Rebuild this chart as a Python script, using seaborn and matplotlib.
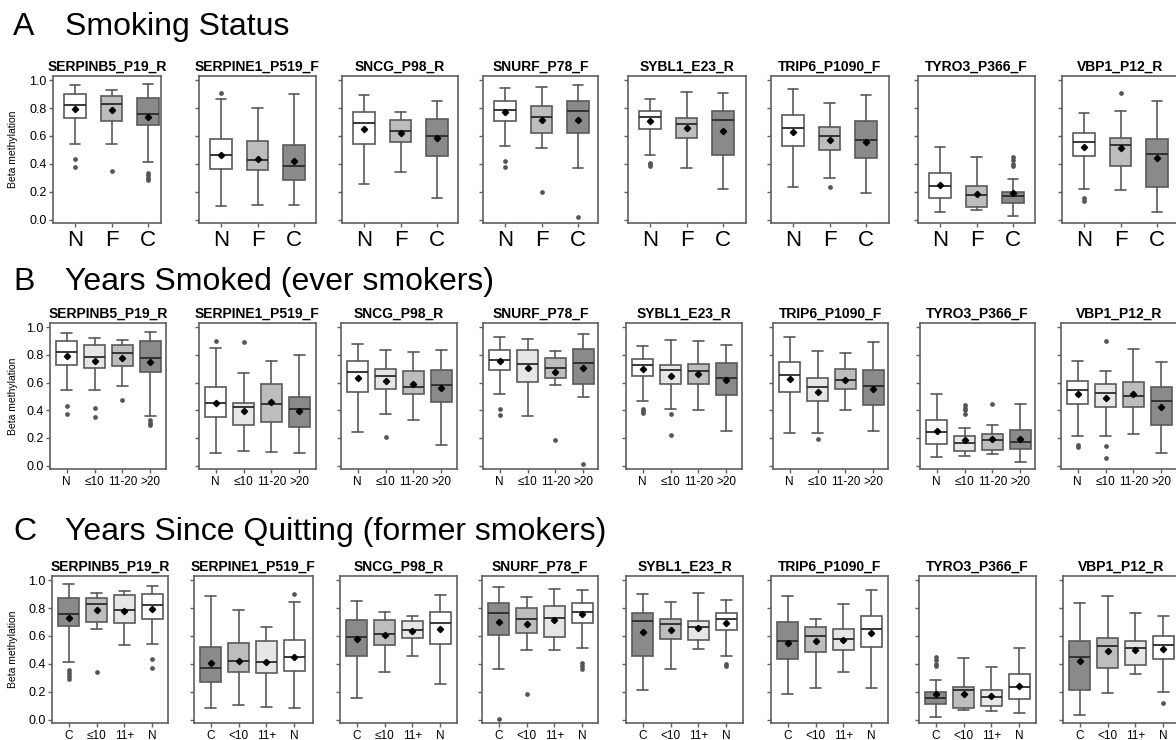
import matplotlib
matplotlib.use("Agg")
import matplotlib.pyplot as plt
import seaborn as sns

# ---------------------------------------------------------------- data
GENES = ["SERPINB5_P19_R", "SERPINE1_P519_F", "SNCG_P98_R", "SNURF_P78_F",
         "SYBL1_E23_R", "TRIP6_P1090_F", "TYRO3_P366_F", "VBP1_P12_R"]

# A: smoking status (N = never, F = former, C = current)
A_LABELS = ["N", "F", "C"]
A_HIGH = [[.964, .928, .971], [.863, .799, .904], [.897, .775, .851], [.945, .950, .966],
          [.868, .916, .909], [.938, .835, .897], [.520, .448, .293], [.765, .782, .851]]
A_Q3 = [[.904, .887, .875], [.580, .564, .532], [.772, .712, .719], [.851, .815, .847],
        [.777, .727, .777], [.751, .664, .707], [.331, .240, .201], [.619, .588, .578]]
A_MED = [[.825, .827, .760], [.465, .429, .381], [.691, .633, .597], [.784, .739, .782],
         [.734, .686, .715], [.657, .597, .573], [.240, .177, .168], [.556, .535, .470]]
A_Q1 = [[.731, .710, .679], [.362, .353, .283], [.545, .554, .458], [.710, .621, .624],
        [.652, .585, .463], [.528, .501, .444], [.156, .091, .117], [.453, .386, .232]]
A_LOW = [[.545, .545, .412], [.096, .103, .101], [.254, .341, .156], [.528, .513, .372],
         [.465, .369, .221], [.235, .300, .192], [.055, .070, .024], [.218, .214, .053]]
A_MEAN = [[.796, .786, .739], [.462, .432, .420], [.647, .624, .585], [.772, .717, .717],
          [.705, .657, .638], [.628, .573, .559], [.250, .185, .192], [.523, .516, .439]]
A_FLIERS = [[[.437, .376], [.345], [.336, .317, .300, .286]],
            [[.911], [], []],
            [[], [], []],
            [[.422, .379], [.199], [.019]],
            [[.408, .396, .384], [], []],
            [[], [.235], []],
            [[], [], [.451, .424, .398, .385]],
            [[.156, .132], [.906], []]]

# B: years smoked (ever smokers)
B_LABELS = ["N", "\u226410", "11-20", ">20"]
B_HIGH = [[.959, .919, .907, .967], [.848, .667, .757, .802], [.876, .833, .817, .833],
          [.929, .914, .829, .948], [.862, .905, .898, .874], [.931, .829, .810, .890],
          [.514, .274, .293, .448], [.757, .686, .845, .745]]
B_Q3 = [[.900, .871, .871, .900], [.567, .452, .590, .498], [.752, .695, .683, .693],
        [.833, .836, .776, .845], [.769, .729, .736, .743], [.745, .636, .700, .688],
        [.331, .217, .231, .255], [.614, .588, .602, .567]]
B_MED = [[.821, .781, .814, .776], [.455, .421, .448, .405], [.674, .648, .569, .581],
         [.764, .733, .705, .743], [.726, .693, .683, .633], [.655, .567, .621, .576],
         [.243, .160, .186, .169], [.548, .521, .505, .464]]
B_Q1 = [[.726, .705, .719, .676], [.352, .290, .317, .276], [.529, .555, .519, .462],
        [.693, .607, .633, .588], [.645, .586, .586, .510], [.529, .469, .555, .440],
        [.157, .107, .112, .117], [.448, .426, .421, .295]]
B_LOW = [[.543, .543, .576, .359], [.090, .107, .095, .088], [.240, .369, .329, .145],
         [.514, .357, .581, .495], [.464, .412, .402, .248], [.233, .233, .400, .252],
         [.060, .071, .086, .024], [.212, .210, .226, .088]]
B_MEAN = [[.793, .757, .776, .745], [.452, .393, .460, .393], [.633, .610, .586, .562],
          [.755, .705, .679, .705], [.698, .645, .664, .619], [.624, .533, .621, .555],
          [.252, .183, .195, .195], [.517, .488, .517, .426]]
B_FLIERS = [[[.433, .374], [.417, .352], [.476], [.329, .310, .290]],
            [[.900], [.893], [], []],
            [[], [.207], [], []],
            [[.412, .364], [], [.186], [.012]],
            [[.405, .393, .381], [.369, .221], [], []],
            [[], [.193], [], []],
            [[], [.440, .419, .398, .376], [.448], []],
            [[.150, .133], [.898, .138, .052], [], []]]

# C: years since quitting (former smokers)
C_LABELS = [["C", "\u226410", "11+", "N"], ["C", "<10", "11+", "N"],
            ["C", "\u226410", "11+", "N"], ["C", "<10", "11+", "N"],
            ["C", "<10", "11+", "N"], ["C", "<10", "11+", "N"],
            ["C", "<10", "11+", "N"], ["C", "<10", "11+", "N"]]
C_HIGH = [[.969, .909, .921, .957], [.887, .787, .664, .844], [.851, .772, .743, .897],
          [.950, .880, .938, .930], [.899, .844, .906, .858], [.890, .719, .827, .930],
          [.286, .441, .379, .513], [.837, .887, .765, .743]]
C_Q3 = [[.873, .871, .894, .899], [.520, .552, .561, .568], [.717, .712, .705, .770],
        [.835, .801, .815, .837], [.767, .724, .710, .767], [.700, .664, .647, .743],
        [.194, .235, .213, .324], [.561, .588, .561, .599]]
C_MED = [[.755, .832, .784, .820], [.369, .420, .412, .451], [.595, .616, .645, .691],
         [.767, .722, .727, .770], [.707, .683, .664, .724], [.563, .599, .576, .650],
         [.158, .209, .160, .235], [.451, .527, .511, .535]]
C_Q1 = [[.671, .703, .695, .724], [.271, .341, .333, .350], [.458, .537, .585, .544],
        [.609, .621, .595, .693], [.453, .576, .573, .645], [.437, .484, .499, .520],
        [.110, .084, .094, .149], [.209, .372, .388, .437]]
C_LOW = [[.412, .652, .537, .540], [.084, .106, .089, .086], [.156, .338, .453, .254],
         [.360, .501, .501, .516], [.213, .360, .506, .458], [.185, .228, .340, .228],
         [.017, .065, .062, .048], [.036, .192, .324, .194]]
C_MEAN = [[.731, .789, .777, .791], [.408, .420, .412, .446], [.581, .609, .633, .647],
          [.703, .683, .717, .758], [.631, .645, .655, .696], [.552, .563, .573, .621],
          [.185, .185, .168, .242], [.420, .494, .496, .504]]
C_FLIERS = [[[.353, .333, .314, .288], [.343], [], [.432, .372]],
            [[], [], [], [.904]],
            [[], [], [], []],
            [[.005], [.185], [], [.405, .383, .362]],
            [[], [], [], [.400, .384]],
            [[], [], [], []],
            [[.446, .424, .400, .381], [], [], []],
            [[], [], [], [.117]]]

# ---------------------------------------------------------------- style
sns.set_theme(style="ticks")
plt.rcParams["font.family"] = ["Liberation Sans", "DejaVu Sans"]
plt.rcParams.update({"text.color": "black", "axes.labelcolor": "black",
                     "xtick.labelcolor": "black", "ytick.labelcolor": "black"})

grey = sns.color_palette(["#ffffff", "#e6e6e6", "#bdbdbd", "#8a8a8a"])
WHITE, VLIGHT, LIGHT, DARK = grey
EDGE = "#5a5a5a"

W, H = 1176, 740
fig = plt.figure(figsize=(W / 100, H / 100), dpi=100)

ROWS = [
    dict(letter="A", title="Smoking Status", base=35, top=76, bottom=223,
         xs=[(53, 161), (199, 316), (342, 458), (483, 598), (628, 746), (771, 889), (918, 1035), (1062, 1179)],
         stats=(A_LOW, A_Q1, A_MED, A_Q3, A_HIGH, A_MEAN, A_FLIERS),
         labels=[A_LABELS] * 8, colors=[WHITE, LIGHT, DARK], width=0.58, tsize=16),
    dict(letter="B", title="Years Smoked (ever smokers)", base=290, top=323, bottom=469,
         xs=[(50, 166), (199, 316), (341, 457), (483, 598), (626, 742), (773, 888), (920, 1035), (1061, 1178)],
         stats=(B_LOW, B_Q1, B_MED, B_Q3, B_HIGH, B_MEAN, B_FLIERS),
         labels=[B_LABELS] * 8, colors=[WHITE, VLIGHT, LIGHT, DARK], width=0.75, tsize=8.5),
    dict(letter="C", title="Years Since Quitting (former smokers)", base=540, top=576, bottom=723,
         xs=[(52, 168), (194, 313), (340, 457), (482, 598), (626, 743), (771, 888), (919, 1036), (1063, 1180)],
         stats=(C_LOW, C_Q1, C_MED, C_Q3, C_HIGH, C_MEAN, C_FLIERS),
         labels=C_LABELS, colors=[DARK, LIGHT, VLIGHT, WHITE], width=0.75, tsize=8.5),
]


def draw_panel(ax, g, row):
    lo, q1, med, q3, hi, mean, fl = row["stats"]
    n = len(lo[g])
    stats = [dict(whislo=lo[g][i], q1=q1[g][i], med=med[g][i], q3=q3[g][i],
                  whishi=hi[g][i], mean=mean[g][i], fliers=fl[g][i]) for i in range(n)]
    bp = ax.bxp(stats, positions=list(range(n)), widths=row["width"],
                patch_artist=True, showmeans=True,
                boxprops=dict(edgecolor=EDGE, linewidth=1.2),
                whiskerprops=dict(color=EDGE, linewidth=1.2),
                capprops=dict(color=EDGE, linewidth=1.2),
                medianprops=dict(color="#2a2a2a", linewidth=1.3),
                meanprops=dict(marker="D", markerfacecolor="black",
                               markeredgecolor="black", markersize=3.2),
                flierprops=dict(marker="o", markerfacecolor="#555555",
                                markeredgecolor="#555555", markersize=2.4))
    for patch, c in zip(bp["boxes"], row["colors"]):
        patch.set_facecolor(c)


for row in ROWS:
    fig.text(13 / W, 1 - row["base"] / H, row["letter"], fontsize=23, va="baseline")
    fig.text(65 / W, 1 - row["base"] / H, row["title"], fontsize=23, va="baseline")
    for g, (x0, x1) in enumerate(row["xs"]):
        ax = fig.add_axes([x0 / W, 1 - row["bottom"] / H, (x1 - x0) / W,
                           (row["bottom"] - row["top"]) / H])
        draw_panel(ax, g, row)
        n = len(row["colors"])
        px_per_unit = 117 / (n + 0.2)
        ax.set_xlim(-0.6, -0.6 + (x1 - x0) / px_per_unit)
        ax.set_ylim(-0.025, 1.03)
        ax.set_yticks([0, 0.2, 0.4, 0.6, 0.8, 1.0])
        ax.set_xticks(range(n))
        ax.set_xticklabels(row["labels"][g], fontsize=row["tsize"])
        ax.tick_params(axis="both", length=3, width=1, color="#606060", pad=1.5)
        ax.tick_params(axis="x", pad=2)
        if g == 0:
            ax.set_yticklabels([f"{v:.1f}" for v in ax.get_yticks()], fontsize=9)
            ax.set_ylabel("Beta methylation", fontsize=7.5)
            ax.yaxis.set_label_coords((18 - x0) / (x1 - x0), 0.5)
        else:
            ax.set_yticklabels([])
        for sp in ax.spines.values():
            sp.set_color("#606060")
            sp.set_linewidth(1.2)
        ax.set_title(GENES[g], fontsize=10, fontweight="bold", pad=4)

fig.savefig("out.png", dpi=100)
